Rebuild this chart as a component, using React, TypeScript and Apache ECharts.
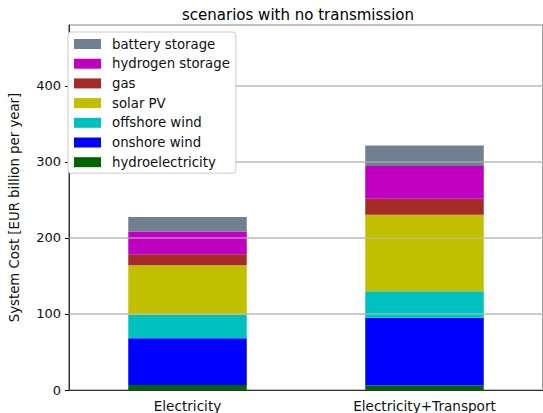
import React, { useEffect, useRef } from "react";
import * as echarts from "echarts";

const categories = ["Electricity", "Electricity+Transport"];
const seriesNames = [
  "hydroelectricity",
  "onshore wind",
  "offshore wind",
  "solar PV",
  "gas",
  "hydrogen storage",
  "battery storage",
];
const seriesColors = ["#006400", "#0000ff", "#00c0c0", "#c0c000", "#a52a2a", "#c000c0", "#708090"];
const hydroelectricity = [6.5, 6];
const onshoreWind = [61.5, 89];
const offshoreWind = [31, 35];
const solarPV = [65, 100.5];
const gas = [14.5, 21];
const hydrogenStorage = [30, 43];
const batteryStorage = [19, 27];
const seriesValues = [hydroelectricity, onshoreWind, offshoreWind, solarPV, gas, hydrogenStorage, batteryStorage];
const gridValues = [100, 200, 300, 400];

const FONT = "DejaVu Sans";

export default function App() {
  const ref = useRef<HTMLDivElement>(null);
  useEffect(() => {
    const chart = echarts.init(ref.current!, null, { renderer: "svg" });
    const series: any[] = seriesNames.map((name, i) => ({
      name,
      type: "bar",
      stack: "total",
      barWidth: "50%",
      data: seriesValues[i],
      itemStyle: { color: seriesColors[i] },
      ...(i === seriesNames.length - 1
        ? {
            markLine: {
              silent: true,
              symbol: "none",
              label: { show: false },
              lineStyle: { color: "rgba(190,190,190,0.7)", width: 1.5, type: "solid" },
              data: gridValues.map((v) => ({ yAxis: v })),
            },
          }
        : {}),
    }));
    chart.setOption({
      animation: false,
      title: {
        text: "scenarios with no transmission",
        left: 293,
        top: 2,
        textAlign: "center",
        textStyle: { fontFamily: FONT, fontSize: 15, fontWeight: "normal", color: "#000" },
      },
      legend: {
        orient: "vertical",
        left: 68,
        top: 32,
        z: 50,
        data: [...seriesNames].reverse(),
        itemWidth: 27,
        itemHeight: 10,
        itemGap: 5.7,
        icon: "rect",
        backgroundColor: "#ffffff",
        borderColor: "#cccccc",
        borderWidth: 1,
        borderRadius: 3,
        padding: [5, 6, 4, 6],
        textStyle: {
          fontFamily: FONT,
          fontSize: 13.3,
          color: "#111",
          lineHeight: 14,
          padding: [0, 0, 0, 6],
        },
      },
      grid: {
        left: 62,
        right: -6,
        top: 25,
        bottom: 23,
        show: true,
        borderColor: "#333",
        borderWidth: 1,
        containLabel: false,
      },
      xAxis: {
        type: "category",
        data: categories,
        axisLine: { lineStyle: { color: "#333" } },
        axisTick: { alignWithLabel: true, length: 4, lineStyle: { color: "#000" } },
        axisLabel: { fontFamily: FONT, fontSize: 13.6, color: "#111", margin: 9 },
      },
      yAxis: {
        type: "value",
        min: 0,
        max: 480,
        interval: 100,
        name: "System Cost [EUR billion per year]",
        nameLocation: "middle",
        nameGap: 48,
        nameTextStyle: { fontFamily: FONT, fontSize: 13.3, color: "#111" },
        axisLine: { show: true, lineStyle: { color: "#333" } },
        axisTick: { show: true, length: 4, lineStyle: { color: "#000" } },
        axisLabel: { fontFamily: FONT, fontSize: 13, color: "#111", margin: 8, showMaxLabel: false },
        splitLine: { show: true, lineStyle: { color: "#d0d0d0", width: 1.5 } },
      },
      series,
    });
    return () => chart.dispose();
  }, []);
  return (
    <div
      ref={ref}
      style={{ position: "fixed", left: 0, top: 0, width: 543, height: 413, background: "#fff" }}
    />
  );
}
